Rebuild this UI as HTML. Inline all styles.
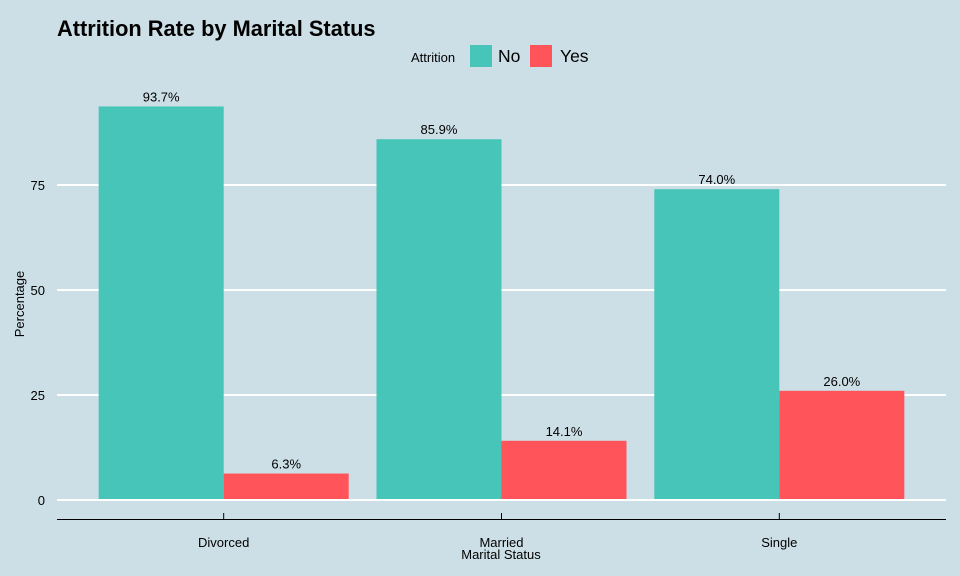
<!DOCTYPE html>
<html><head><meta charset="utf-8"><style>
body{margin:0;background:#cddfe6;}
svg{display:block;font-family:"Liberation Sans",Arial,sans-serif;}
</style></head><body>
<svg width="960" height="576" viewBox="0 0 960 576">
<rect width="960" height="576" fill="#cddfe6"/>
<text x="57" y="36" font-size="21.8" font-weight="bold" fill="#000">Attrition Rate by Marital Status</text>
<g>
<text x="411" y="62" font-size="13">Attrition</text>
<rect x="470" y="45" width="22" height="22" fill="#46c5b8"/>
<text x="498" y="62" font-size="17.5">No</text>
<rect x="530" y="45" width="22" height="22" fill="#ff5459"/>
<text x="560" y="62" font-size="17.5">Yes</text>
</g>
<g id="grid"></g><g id="bars"></g><g id="axes"></g>
<text x="501" y="559" font-size="13" text-anchor="middle">Marital Status</text>
<text transform="translate(24,304) rotate(-90)" font-size="13" text-anchor="middle">Percentage</text>
</svg>
<script>
const categories=["Divorced","Married","Single"];
const noValues=[93.7,85.9,74.0];
const yesValues=[6.3,14.1,26.0];
const yTicks=[0,25,50,75];
const NS="http://www.w3.org/2000/svg";
const x0=57,x1=946,y0=500,pxPer=4.2;
const unit=(x1-x0)/(categories.length+0.2);
const xc=i=>x0+(0.6+i)*unit;
const y=v=>y0-v*pxPer;
function mk(tag,attrs,parent){const e=document.createElementNS(NS,tag);for(const k in attrs)e.setAttribute(k,attrs[k]);document.getElementById(parent).appendChild(e);return e;}
yTicks.forEach(t=>{
 const l=mk('line',{x1:x0,x2:x1,y1:y(t),y2:y(t),stroke:'#fff','stroke-width':2},'grid');
 
 
 const tx=mk('text',{x:45,y:y(t)+5,'font-size':13,'text-anchor':'end'},'axes');tx.textContent=t;
 
 
});
const bw=unit*0.45;
categories.forEach((c,i)=>{
 [[noValues[i],'#46c5b8',-bw,'no'],[yesValues[i],'#ff5459',0,'yes']].forEach(([v,col,off,s])=>{
  const r=mk('rect',{x:xc(i)+off,y:y(v),width:bw,height:y0-1-y(v),fill:col},'bars');
  
  
  const t=mk('text',{x:xc(i)+off+bw/2,y:y(v)-5,'font-size':13,'text-anchor':'middle'},'bars');
  t.textContent=v.toFixed(1)+'%';
  
  
 });
 const tk=mk('line',{x1:xc(i),x2:xc(i),y1:513,y2:519,stroke:'#000','stroke-width':1},'axes');
 
 
 const lb=mk('text',{x:xc(i),y:547,'font-size':13,'text-anchor':'middle'},'axes');lb.textContent=c;
 
 
});
const ax=mk('line',{x1:x0,x2:x1,y1:519.5,y2:519.5,stroke:'#000','stroke-width':1},'axes');


</script>
</body></html>
